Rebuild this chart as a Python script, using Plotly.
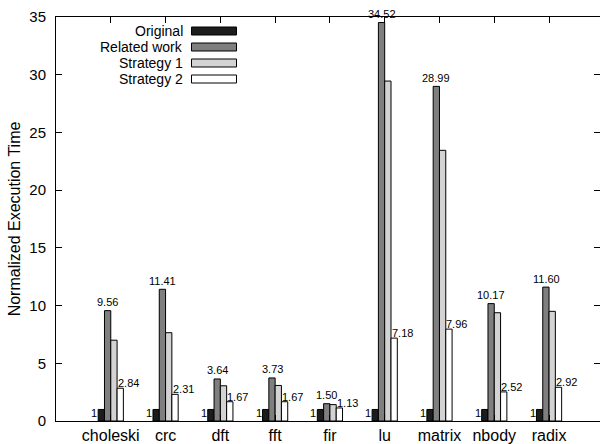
import plotly.graph_objects as go

# ---- data ----
categories = ["choleski", "crc", "dft", "fft", "fir", "lu", "matrix", "nbody", "radix"]
series_names = ["Original", "Related work", "Strategy 1", "Strategy 2"]
original = [1, 1, 1, 1, 1, 1, 1, 1, 1]
related_work = [9.56, 11.41, 3.64, 3.73, 1.50, 34.52, 28.99, 10.17, 11.60]
strategy1 = [7.0, 7.65, 3.05, 3.08, 1.42, 29.45, 23.45, 9.38, 9.5]
strategy2 = [2.84, 2.31, 1.67, 1.67, 1.13, 7.18, 7.96, 2.52, 2.92]
y_ticks = [0, 5, 10, 15, 20, 25, 30, 35]

# ---- style ----
W, H = 600, 444
ML, MR, MT, MB = 56, 0, 17, 23
FONT = "Liberation Sans, Arial, Helvetica, sans-serif"
colors = ["#1c1c1c", "#7f7f7f", "#d3d3d3", "#ffffff"]
series = [original, related_work, strategy1, strategy2]

fig = go.Figure()
for name, vals, col in zip(series_names, series, colors):
    fig.add_trace(go.Bar(
        x=categories, y=vals, name=name,
        marker=dict(color=col, line=dict(color="black", width=1)),
        showlegend=False,
    ))

ann = []
for i, c in enumerate(categories):
    ann.append(dict(x=c, y=original[i], text=f"{original[i]:g}", showarrow=False,
                    xanchor="right", yanchor="middle", xshift=-11.5, yshift=-4,
                    font=dict(size=11, color="black", family=FONT)))
    ann.append(dict(x=c, y=related_work[i], text=f"{related_work[i]:.2f}", showarrow=False,
                    xanchor="center", yanchor="middle", xshift=-3, yshift=8.5,
                    font=dict(size=11, color="black", family=FONT)))
    ann.append(dict(x=c, y=strategy2[i], text=f"{strategy2[i]:.2f}", showarrow=False,
                    xanchor="left", yanchor="middle", xshift=5, yshift=5,
                    font=dict(size=11, color="black", family=FONT)))

# ---- manual gnuplot-style legend (text right, swatch right of it) ----
plot_w = W - ML - MR
plot_h = H - MT - MB
def px_x(px):
    return (px - ML) / plot_w
def px_y(py):
    return (H - MB - py) / plot_h

shapes = []
row_y = [31, 47, 63, 79]
for name, col, py in zip(series_names, colors, row_y):
    ann.append(dict(xref="paper", yref="paper", x=px_x(183), y=px_y(py), text=name,
                    showarrow=False, xanchor="right", yanchor="middle", borderpad=0,
                    borderwidth=0,
                    font=dict(size=14, color="black", family=FONT)))
    shapes.append(dict(type="rect", xref="paper", yref="paper",
                       x0=px_x(191.5), x1=px_x(236.5), y0=px_y(py + 4), y1=px_y(py - 4),
                       fillcolor=col, line=dict(color="black", width=1)))

fig.update_layout(
    width=W, height=H,
    margin=dict(l=ML, r=MR, t=MT, b=MB, pad=0),
    paper_bgcolor="white", plot_bgcolor="white",
    barmode="group", bargap=0.54, bargroupgap=0,
    font=dict(family=FONT, color="black"),
    showlegend=False,
    annotations=ann, shapes=shapes,
    xaxis=dict(
        type="category", range=[-1, 8.93],
        showline=True, linecolor="black", linewidth=1, mirror="ticks",
        ticks="inside", ticklen=6, tickcolor="black",
        showgrid=False, tickfont=dict(size=16, family=FONT, color="black"),
    ),
    yaxis=dict(
        range=[0, 35], tickvals=y_ticks,
        showline=True, linecolor="black", linewidth=1, mirror="ticks",
        ticks="inside", ticklen=6, tickcolor="black",
        showgrid=False, zeroline=False,
        tickfont=dict(size=15, family=FONT, color="black"),
        ticklabelstandoff=6,
        title=dict(text="Normalized Execution Time", standoff=4,
                   font=dict(size=16, family=FONT, color="black")),
    ),
)

fig.write_html("out.html", config={"displayModeBar": False},
               post_script="document.body.style.margin='0';document.body.style.overflow='hidden';")
